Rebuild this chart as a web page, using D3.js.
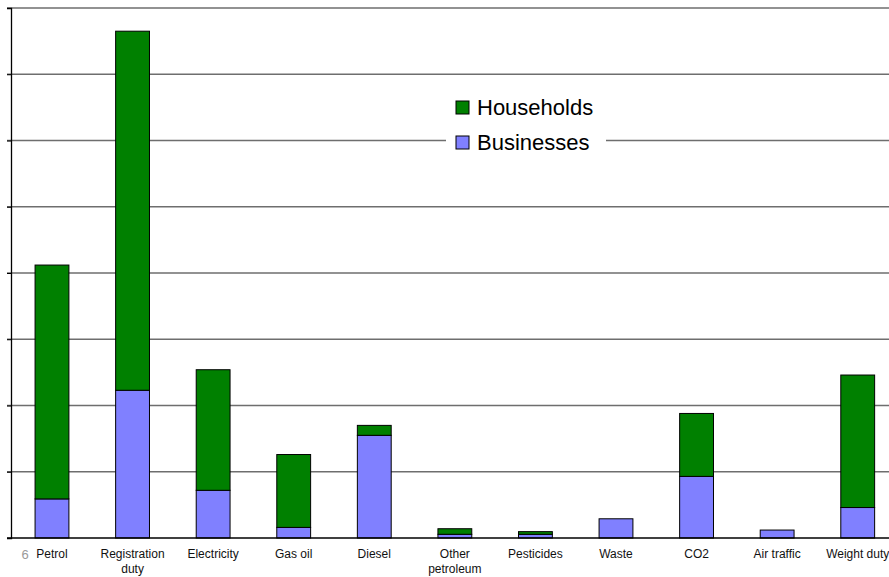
<!DOCTYPE html>
<html>
<head>
<meta charset="utf-8">
<script src="https://cdn.jsdelivr.net/npm/d3@7"></script>
<style>
  body { margin: 0; background: #fff; }
  svg { display: block; font-family: Arial, "Liberation Sans", sans-serif; }
</style>
</head>
<body>
<svg id="chart" width="889" height="577"></svg>
<script>
// Environmental tax revenue by tax base, split by who pays
const categories = ["Petrol", "Registration\nduty", "Electricity", "Gas oil", "Diesel",
  "Other\npetroleum", "Pesticides", "Waste", "CO2", "Air traffic", "Weight duty"];
const businesses = [0.59, 2.23, 0.72, 0.16, 1.55, 0.056, 0.056, 0.29, 0.93, 0.12, 0.46];
const households = [3.53, 5.42, 1.82, 1.10, 0.15, 0.084, 0.04, 0, 0.95, 0, 2.00];
const seriesNames = ["Households", "Businesses"];
const seriesColors = { Businesses: "#8080ff", Households: "#008000" };
const yTicks = [0, 1, 2, 3, 4, 5, 6, 7, 8];

const svg = d3.select("#chart");
const plot = { left: 11, right: 898, top: 8, bottom: 538 };

const x = d3.scaleBand().domain(categories).range([plot.left + 0.7, plot.right]).paddingInner(0.58).paddingOuter(0.29);
const y = d3.scaleLinear().domain([0, 8]).range([plot.bottom, plot.top]);

// horizontal gridlines
svg.append("g").selectAll("line").data(yTicks.slice(1)).join("line")
  .attr("x1", plot.left - 4).attr("x2", 889)
  .attr("y1", d => y(d)).attr("y2", d => y(d))
  .attr("stroke", "#6e6e6e").attr("stroke-width", 1.3);

// stacked bars
const rows = categories.map((c, i) => ({ cat: c, Businesses: businesses[i], Households: households[i] }));
const stacked = d3.stack().keys(["Businesses", "Households"])(rows);
svg.append("g").selectAll("g").data(stacked).join("g")
  .attr("fill", d => seriesColors[d.key])
  .selectAll("rect").data(d => d.filter(p => p[1] - p[0] > 0)).join("rect")
  .attr("x", d => x(d.data.cat))
  .attr("width", x.bandwidth())
  .attr("y", d => y(d[1]))
  .attr("height", d => y(d[0]) - y(d[1]))
  .attr("stroke", "#000").attr("stroke-width", 1);

// value axis (unlabelled) and baseline
const yAxis = svg.append("g").attr("transform", `translate(${plot.left},0)`)
  .call(d3.axisLeft(y).tickValues(yTicks).tickSize(4).tickFormat(""));
yAxis.selectAll("line").attr("stroke", "#000");
yAxis.select(".domain").attr("stroke", "#000").attr("stroke-width", 1.3);
svg.append("line").attr("x1", plot.left - 4).attr("x2", 889)
  .attr("y1", y(0)).attr("y2", y(0)).attr("stroke", "#000").attr("stroke-width", 1.3);

// category labels, split over lines
const labels = svg.append("g").attr("font-size", 12).attr("fill", "#111").attr("text-anchor", "middle");
categories.forEach(c => {
  const t = labels.append("text").attr("x", x(c) + x.bandwidth() / 2).attr("y", 558);
  c.split("\n").forEach((line, i) => {
    t.append("tspan").attr("x", x(c) + x.bandwidth() / 2).attr("dy", i === 0 ? 0 : 15).text(line);
  });
});

// page number
svg.append("text").attr("x", 25).attr("y", 559).attr("font-size", 13)
  .attr("fill", "#999").attr("text-anchor", "middle").text("6");

// legend
const lg = svg.append("g");
lg.append("rect").attr("x", 446).attr("y", 90).attr("width", 160).attr("height", 68).attr("fill", "#fff");
seriesNames.forEach((name, i) => {
  const yy = 101 + i * 35;
  lg.append("rect").attr("x", 456).attr("y", yy).attr("width", 13).attr("height", 13)
    .attr("fill", seriesColors[name]).attr("stroke", "#000").attr("stroke-width", 1);
  lg.append("text").attr("x", 477).attr("y", yy + 14).attr("font-size", 22).attr("fill", "#000").text(name);
});
</script>
</body>
</html>
